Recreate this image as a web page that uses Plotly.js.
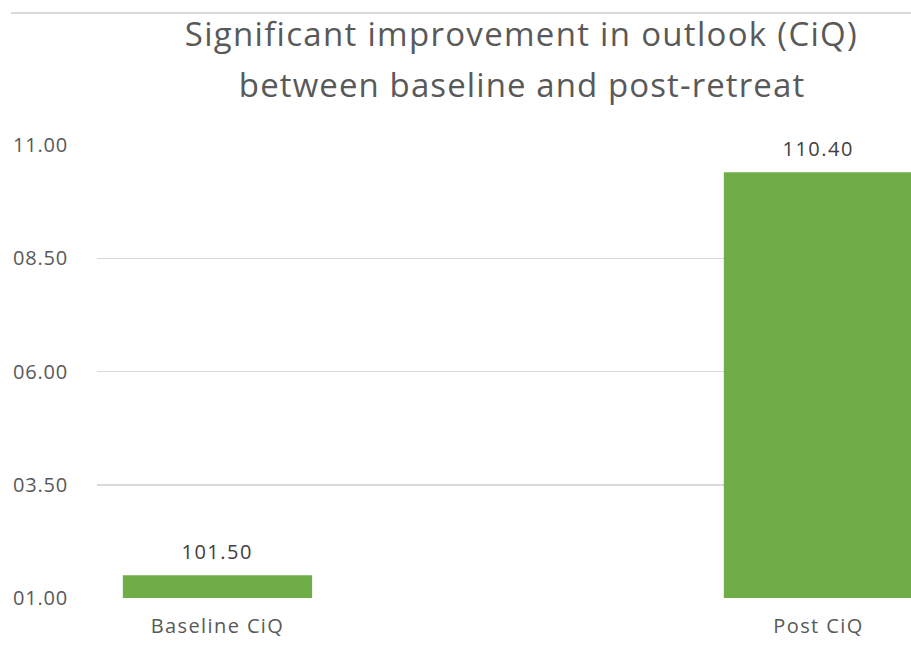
<!DOCTYPE html>
<html>
<head>
<meta charset="utf-8">
<script src="https://cdn.plot.ly/plotly-3.0.1.min.js"></script>
<style>
  html, body { margin: 0; padding: 0; background: #ffffff; overflow: hidden; }
  /* the chart frame trims anything drawn left of its edge */
  #frame { position: absolute; left: 11px; top: 0; width: 900px; height: 648px; overflow: hidden; }
  #chart { position: absolute; left: -11px; top: 0; width: 911px; height: 648px; }
  #chart .gtitle { letter-spacing: 1.3px; }
  #chart .xtick text { letter-spacing: 1.4px; }
  #chart .ytick text { letter-spacing: 0.8px; }
  #chart .annotation-text { letter-spacing: 1.5px; }
  #chart .annotation[data-index="2"] .annotation-text { letter-spacing: 1.1px; }
</style>
</head>
<body>
<div id="frame"><div id="chart"></div></div>
<script>
// CiQ outlook scores before and after the retreat
const categories = ['Baseline CiQ', 'Post CiQ'];
const ciqScores = [101.50, 110.40];
const yTicks = [101.00, 103.50, 106.00, 108.50, 111.00];

const titleLines = ['Significant improvement in outlook (CiQ)', 'between baseline and post-retreat'];

const FONT = 'Open Sans, Lato, sans-serif';
const GREY = '#595959';

const trace = {
  type: 'bar',
  x: categories,
  y: ciqScores,
  width: 0.315,
  marker: { color: '#70ad47', line: { width: 0 } },
  hoverinfo: 'x+y'
};

// value labels sit a little above each bar
const valueLabels = categories.map((c, i) => ({
  x: c,
  y: ciqScores[i],
  xref: 'x',
  yref: 'y',
  text: ciqScores[i].toFixed(2),
  showarrow: false,
  yanchor: 'bottom',
  yshift: 8,
  font: { family: FONT, size: 20, color: '#404040' }
}));

// second title line, set a little further down than a plain line break would put it
const titleSecondLine = {
  xref: 'paper',
  yref: 'paper',
  x: (521.5 - 97) / 814,
  y: 1 + (145 - 84) / 453,
  xanchor: 'center',
  yanchor: 'middle',
  text: titleLines[1],
  showarrow: false,
  font: { family: FONT, size: 33, color: GREY }
};

const layout = {
  width: 911,
  height: 648,
  margin: { l: 97, r: 0, t: 145, b: 50 },
  paper_bgcolor: '#ffffff',
  plot_bgcolor: '#ffffff',
  showlegend: false,
  title: {
    text: titleLines[0],
    font: { family: FONT, size: 33, color: GREY },
    xref: 'container',
    x: 0.5724,
    xanchor: 'center',
    yref: 'container',
    y: 1 - 34 / 648,
    yanchor: 'middle'
  },
  xaxis: {
    type: 'category',
    range: [-0.2005, 1.154],
    showgrid: false,
    zeroline: false,
    showline: false,
    ticks: '',
    ticklabelstandoff: 14,
    tickfont: { family: FONT, size: 20, color: GREY },
    fixedrange: true
  },
  yaxis: {
    range: [101, 111],
    tickvals: yTicks,
    ticktext: yTicks.map(v => v.toFixed(2)),
    showgrid: true,
    gridcolor: '#d9d9d9',
    gridwidth: 1.5,
    zeroline: false,
    showline: false,
    ticks: '',
    ticklabelstandoff: 28,
    tickfont: { family: FONT, size: 20, color: GREY },
    fixedrange: true
  },
  annotations: valueLabels.concat([titleSecondLine]),
  shapes: [{
    type: 'line',
    xref: 'paper',
    yref: 'paper',
    x0: -0.109,
    x1: 1,
    y0: 1 + (145 - 13) / 453,
    y1: 1 + (145 - 13) / 453,
    line: { color: '#d9d9d9', width: 2 }
  }]
};

Plotly.newPlot('chart', [trace], layout, { displayModeBar: false, staticPlot: true });
</script>
</body>
</html>
